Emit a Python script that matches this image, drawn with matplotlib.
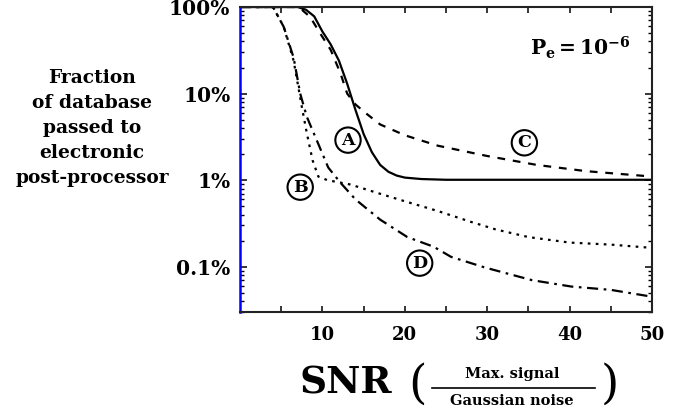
import matplotlib
matplotlib.use("Agg")
import matplotlib.pyplot as plt
from matplotlib.lines import Line2D
from matplotlib.ticker import FixedLocator, FuncFormatter, LogLocator, NullFormatter

# SNR values and fraction of database passed (as fractions of 1)
snr_a = [0, 7, 8, 9, 10, 11, 12, 13, 14, 15, 16, 17, 18, 19, 20, 22, 25, 50]
frac_a = [1.0, 1.0, 0.93, 0.78, 0.52, 0.37, 0.24, 0.13, 0.065, 0.034, 0.021,
          0.015, 0.0125, 0.0113, 0.0107, 0.0103, 0.0101, 0.0101]

snr_b = [0, 4, 5.3, 6.5, 7.0, 7.5, 8.1, 8.8, 9.5, 10.6, 13.4, 16.7, 20, 24, 28,
         31, 35, 40, 45, 50]
frac_b = [1.0, 1.0, 0.59, 0.24, 0.13, 0.07, 0.035, 0.017, 0.011, 0.0100, 0.0089,
          0.0071, 0.0057, 0.0044, 0.0033, 0.0027, 0.0022, 0.0019, 0.0018, 0.00165]

snr_c = [0, 6.5, 7.5, 8.5, 9.7, 11, 12.2, 13, 14, 15.2, 17, 20, 24, 30, 36, 42, 50]
frac_c = [1.0, 1.0, 0.93, 0.77, 0.5, 0.32, 0.17, 0.1, 0.075, 0.06, 0.044, 0.033,
          0.025, 0.019, 0.015, 0.0127, 0.011]

snr_d = [0, 4, 5.3, 6.5, 7.3, 8.1, 9.3, 10.7, 12.2, 14, 17, 20.3, 23.5, 25.6,
         29.7, 35.4, 40.2, 45, 50]
frac_d = [1.0, 1.0, 0.59, 0.26, 0.1, 0.054, 0.029, 0.014, 0.0093, 0.006, 0.0035,
          0.0022, 0.0017, 0.0013, 0.00098, 0.0007, 0.00059, 0.00054, 0.00045]

curve_labels = ["A", "B", "C", "D"]
label_x = [13.1, 7.3, 34.5, 21.8]
label_y = [0.029, 0.0083, 0.027, 0.0011]

y_ticks = [1.0, 0.1, 0.01, 0.001]
y_tick_labels = ["100%", "10%", "1%", "0.1%"]
x_ticks = [5, 10, 15, 20, 25, 30, 35, 40, 45, 50]

SERIF = "DejaVu Serif"
plt.rcParams["font.family"] = SERIF
plt.rcParams["mathtext.fontset"] = "dejavuserif"
plt.rcParams["mathtext.default"] = "bf"

fig = plt.figure(figsize=(6.8, 4.13), dpi=100)
ax = fig.add_axes([0.353, 0.2446, 0.606, 0.7384])

ax.plot(snr_a, frac_a, color="black", linewidth=1.6, linestyle="-")
ax.plot(snr_b, frac_b, color="black", linewidth=1.6, linestyle=(0, (1.2, 2.4)))
ax.plot(snr_c, frac_c, color="black", linewidth=1.6, linestyle=(0, (3.5, 3.5)))
ax.plot(snr_d, frac_d, color="black", linewidth=1.6,
        linestyle=(0, (5, 2.5, 1.2, 2.5)))

for lab, lx, ly in zip(curve_labels, label_x, label_y):
    ax.text(lx, ly, lab, ha="center", va="center", fontsize=12.5, fontweight="bold",
            bbox=dict(boxstyle="circle,pad=0.24", facecolor="white",
                      edgecolor="black", linewidth=1.5))

ax.text(0.948, 0.865, r"$P_e = 10^{-6}$", transform=ax.transAxes, ha="right",
        va="center", fontsize=14.5)

ax.set_yscale("log")
ax.set_xlim(0, 50)
ax.set_ylim(3.0e-4, 1.0)

ax.yaxis.set_major_locator(FixedLocator(y_ticks))
ax.yaxis.set_major_formatter(FuncFormatter(
    lambda v, p: y_tick_labels[y_ticks.index(v)] if v in y_ticks else ""))
ax.yaxis.set_minor_locator(LogLocator(base=10, subs=range(2, 10), numticks=20))
ax.yaxis.set_minor_formatter(NullFormatter())

ax.xaxis.set_major_locator(FixedLocator(x_ticks))
ax.xaxis.set_major_formatter(FuncFormatter(
    lambda v, p: f"{int(v)}" if int(v) % 10 == 0 else ""))

ax.tick_params(axis="both", which="both", direction="in", top=True, right=True,
               color="black")
ax.tick_params(axis="x", which="major", length=4, width=1.1, labelsize=13, pad=10)
ax.tick_params(axis="y", which="major", length=5, width=1.1, labelsize=14.5, pad=7)
ax.tick_params(axis="y", which="minor", length=3, width=1.0)
for lbl in ax.get_xticklabels() + ax.get_yticklabels():
    lbl.set_fontweight("bold")

for side in ["top", "right", "bottom"]:
    ax.spines[side].set_linewidth(1.5)
    ax.spines[side].set_color("#222222")
ax.spines["left"].set_color("#0000ff")
ax.spines["left"].set_linewidth(1.8)

# y label as a centred block of text to the left
fig.text(92 / 680, 1 - 128 / 413,
         "Fraction\nof database\npassed to\nelectronic\npost-processor",
         ha="center", va="center", fontsize=13.4, fontweight="bold",
         linespacing=1.5)

# x label: SNR ( Max. signal / Gaussian noise )
fig.text(346 / 680, 1 - 383 / 413, "SNR", ha="center", va="center",
         fontsize=27, fontweight="bold")
fig.text(417 / 680, 1 - 385 / 413, "(", ha="center", va="center", fontsize=34)
fig.text(610 / 680, 1 - 385 / 413, ")", ha="center", va="center", fontsize=34)
fig.text(512 / 680, 1 - 374 / 413, "Max. signal", ha="center", va="center",
         fontsize=10.5, fontweight="bold")
fig.text(512 / 680, 1 - 401 / 413, "Gaussian noise", ha="center", va="center",
         fontsize=10.5, fontweight="bold")
fig.add_artist(Line2D([432 / 680, 595 / 680], [1 - 388 / 413, 1 - 388 / 413],
                      transform=fig.transFigure, color="black", linewidth=1.2))

fig.savefig("out.png", dpi=100)
